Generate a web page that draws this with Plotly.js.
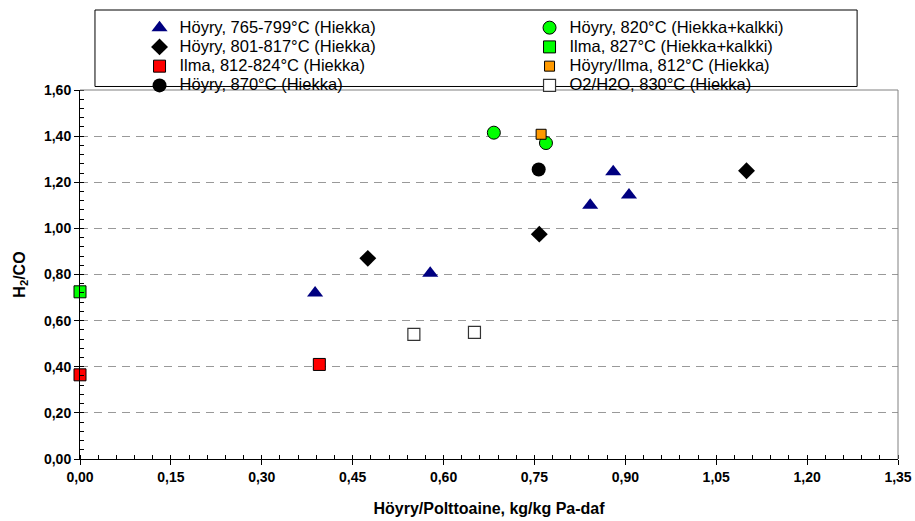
<!DOCTYPE html>
<html>
<head>
<meta charset="utf-8">
<script src="https://cdn.plot.ly/plotly-3.0.1.min.js"></script>
<style>html,body{margin:0;padding:0;background:#fff;}#chart{width:915px;height:521px;}</style>
</head>
<body>
<div id="chart"></div>
<script>
// Data
const seriesNames = [
  "Höyry, 765-799°C (Hiekka)",
  "Höyry, 820°C (Hiekka+kalkki)",
  "Höyry, 801-817°C (Hiekka)",
  "Ilma, 827°C (Hiekka+kalkki)",
  "Ilma, 812-824°C (Hiekka)",
  "Höyry/Ilma, 812°C (Hiekka)",
  "Höyry, 870°C (Hiekka)",
  "O2/H2O, 830°C (Hiekka)"
];
const steam765X = [0.388, 0.578, 0.842, 0.880, 0.906];
const steam765Y = [0.72, 0.805, 1.10, 1.245, 1.145];
const steam820X = [0.683, 0.769];
const steam820Y = [1.415, 1.37];
const steam801X = [0.475, 0.758, 1.10];
const steam801Y = [0.87, 0.975, 1.25];
const air827X = [0.0];
const air827Y = [0.725];
const air812X = [0.0, 0.395];
const air812Y = [0.365, 0.41];
const steamAirX = [0.761];
const steamAirY = [1.408];
const steam870X = [0.757];
const steam870Y = [1.255];
const o2h2oX = [0.551, 0.651];
const o2h2oY = [0.54, 0.549];

const xTitle = "Höyry/Polttoaine, kg/kg Pa-daf";
const yTitle = "H<sub>2</sub>/CO";

const F = "Arial, 'Liberation Sans', sans-serif";

function tr(name, x, y, marker) {
  return {type: 'scatter', mode: 'markers',
    name: '<span style="font-size:16.5px">' + name + '</span>',
    x: x, y: y, marker: marker, cliponaxis: false, hoverinfo: 'x+y'};
}

const data = [
  tr(seriesNames[0], steam765X, steam765Y, {symbol: 'triangle-up', size: 14, color: '#000080', line: {width: 0}}),
  tr(seriesNames[1], steam820X, steam820Y, {symbol: 'circle', size: 13, color: '#00FF00', line: {width: 1, color: '#000'}}),
  tr(seriesNames[2], steam801X, steam801Y, {symbol: 'diamond', size: 13, color: '#000000', line: {width: 0}}),
  tr(seriesNames[3], air827X, air827Y, {symbol: 'square', size: 12, color: '#00FF00', line: {width: 1, color: '#000'}}),
  tr(seriesNames[4], air812X, air812Y, {symbol: 'square', size: 12, color: '#FF0000', line: {width: 1, color: '#000'}}),
  tr(seriesNames[5], steamAirX, steamAirY, {symbol: 'square', size: 10, color: '#FF9900', line: {width: 1, color: '#000'}}),
  tr(seriesNames[6], steam870X, steam870Y, {symbol: 'circle', size: 14, color: '#000000', line: {width: 0}}),
  tr(seriesNames[7], o2h2oX, o2h2oY, {symbol: 'square', size: 12, color: '#FFFFFF', line: {width: 1.2, color: '#333'}})
];

const layout = {
  width: 915, height: 521,
  margin: {l: 80, r: 17, t: 90, b: 62, autoexpand: false},
  paper_bgcolor: '#fff', plot_bgcolor: '#fff',
  separators: ', ',
  font: {family: F, color: '#000', size: 13},
  showlegend: true,
  legend: {
    orientation: 'h',
    xref: 'container', yref: 'container',
    x: 0.1525, xanchor: 'left', y: 0.975, yanchor: 'top',
    entrywidth: 345, entrywidthmode: 'pixels',
    font: {family: F, size: 12.5, color: '#000'},
    bgcolor: 'rgba(0,0,0,0)', borderwidth: 0,
    tracegroupgap: 0, itemclick: false
  },
  xaxis: {
    range: [0, 1.35], dtick: 0.15, tick0: 0, tickformat: '.2f',
    showgrid: false, zeroline: false,
    showline: true, linecolor: '#000', linewidth: 1,
    ticks: 'outside', ticklen: 5, tickcolor: '#000',
    tickfont: {family: F, size: 14, color: '#000', weight: 'bold'},
    minor: {dtick: 0.03, ticks: 'inside', ticklen: 4, tickcolor: '#000', showgrid: false},
    title: {text: xTitle, font: {family: F, size: 16, color: '#000', weight: 'bold'}, standoff: 19}
  },
  yaxis: {
    range: [0, 1.6], dtick: 0.2, tick0: 0, tickformat: '.2f',
    showgrid: true, gridcolor: '#999', griddash: '8px,6px', gridwidth: 1,
    zeroline: false,
    showline: true, linecolor: '#000', linewidth: 1,
    ticks: 'outside', ticklen: 5, tickcolor: '#000',
    tickfont: {family: F, size: 14, color: '#000', weight: 'bold'},
    minor: {dtick: 0.04, ticks: 'inside', ticklen: 4, tickcolor: '#000', showgrid: false},
    title: {text: yTitle, font: {family: F, size: 16, color: '#000', weight: 'bold'}, standoff: 14}
  },
  shapes: [
    {type: 'line', xref: 'paper', yref: 'paper', x0: 1, x1: 1, y0: 0, y1: 1, line: {color: '#808080', width: 1}},
    {type: 'line', xref: 'paper', yref: 'paper', x0: 0, x1: 1, y0: 1, y1: 1, line: {color: '#808080', width: 1}},
    {type: 'rect', xref: 'paper', yref: 'paper', x0: 0.0183, x1: 0.950, y0: 1.0095, y1: 1.2168, line: {color: '#000', width: 1}, fillcolor: 'rgba(0,0,0,0)'}
  ]
};

Plotly.newPlot('chart', data, layout, {displayModeBar: false, staticPlot: true});
</script>
</body>
</html>
